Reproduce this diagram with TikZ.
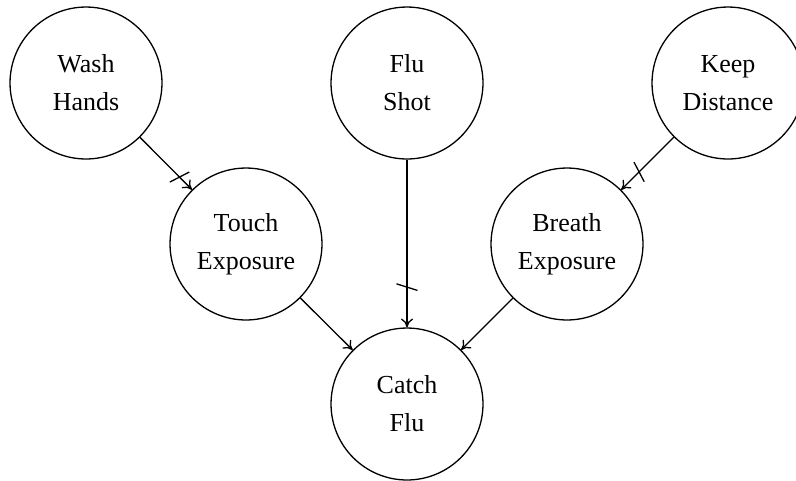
\documentclass[tikz,border=0pt]{standalone}
\usepackage{fontspec}
\setmainfont{Liberation Serif}
\usetikzlibrary{arrows.meta,decorations.markings}
\begin{document}
\begin{tikzpicture}[x=0.385pt,y=-0.385pt,
  var/.style={circle,draw,line width=0.5pt,minimum size=58.5pt,inner sep=0pt,align=center,font=\fontsize{10}{14.6}\selectfont},
  link/.style={line width=0.5pt,-{To[length=3.4pt,width=4.6pt]}},
  blocked/.style={postaction={decorate},decoration={markings,mark=at position #1 with {\draw[-,line width=0.5pt] (-1.27pt,-4.04pt)--(1.27pt,4.04pt);}}}]
\useasboundingbox (0,0) rectangle (796,480);
\node[var] (wh) at (86,83) {Wash\\Hands};
\node[var] (fs) at (407,83) {Flu\\Shot};
\node[var] (kd) at (728,83) {Keep\\Distance};
\node[var] (te) at (246,244) {Touch\\Exposure};
\node[var] (be) at (567,244) {Breath\\Exposure};
\node[var] (cf) at (407,404) {Catch\\Flu};
\draw[link,blocked=0.76] (wh) -- (te);
\draw[link,blocked=0.76] (fs) -- (cf);
\draw[link,blocked=0.66] (kd) -- (be);
\draw[link] (te) -- (cf);
\draw[link] (be) -- (cf);
\end{tikzpicture}
\end{document}
